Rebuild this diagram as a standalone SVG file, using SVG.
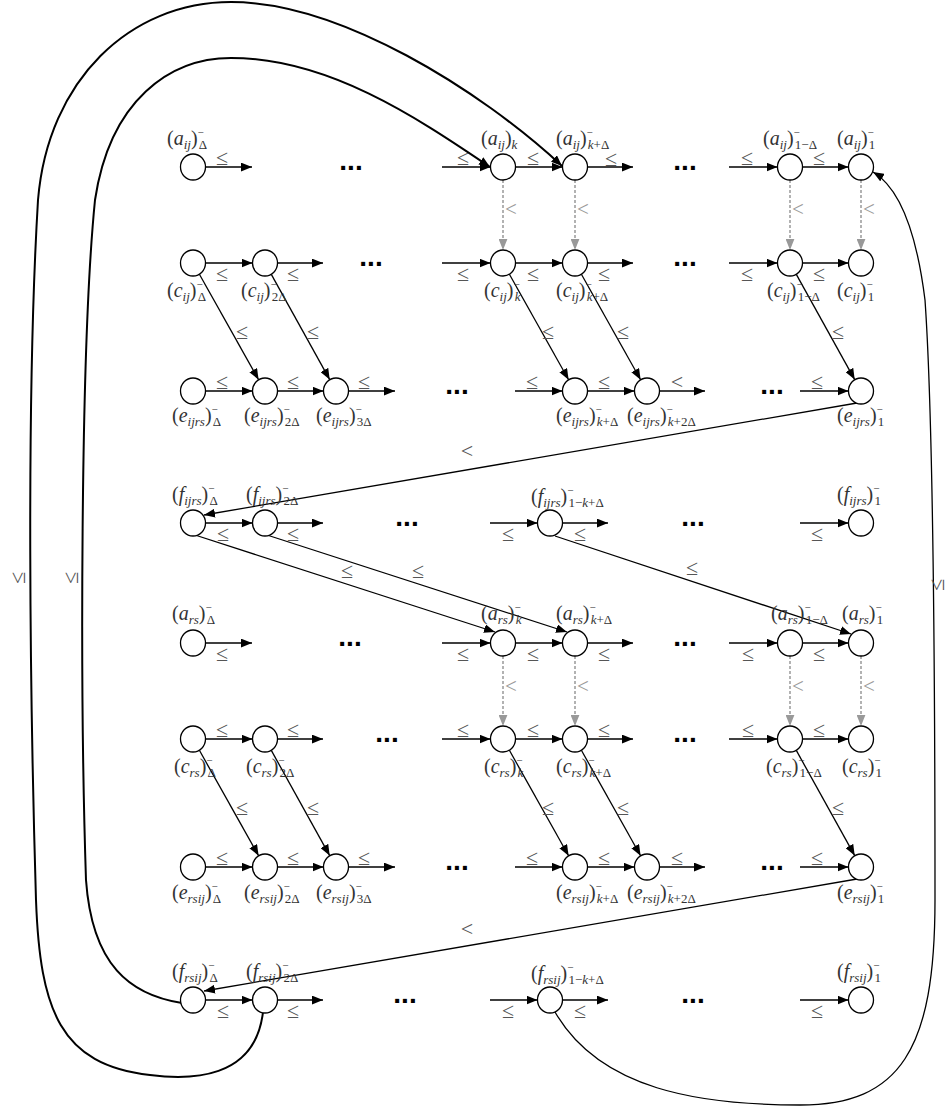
<svg xmlns="http://www.w3.org/2000/svg" width="948" height="1118" viewBox="0 0 948 1118">
<style>
.n{fill:#fff;stroke:#000;stroke-width:1.3}
.c{stroke:#000;stroke-width:1.3;fill:none;marker-end:url(#ah)}
.cb{stroke:#000;stroke-width:2;fill:none;marker-end:url(#ah)}
.d{stroke:#999;stroke-width:1.5;stroke-dasharray:3 2;fill:none;marker-end:url(#ahg)}
.lb{font-family:"Liberation Serif",serif;font-size:20px;fill:#333}
.i{font-style:italic}
.sb{font-size:13px}
.sp{font-size:11px}
.le{font-family:"Liberation Serif",serif;font-size:22px;fill:#555;text-anchor:middle}
.lg{font-family:"Liberation Serif",serif;font-size:21px;fill:#999}
.dt{font-family:"Liberation Sans",sans-serif;font-weight:bold;font-size:28px;text-anchor:middle;fill:#000}
</style>
<defs>
<marker id="ah" viewBox="0 0 10 8" refX="10" refY="4" markerWidth="11" markerHeight="9" orient="auto" markerUnits="userSpaceOnUse"><path d="M0,0 L10,4 L0,8 z" fill="#000"/></marker>
<marker id="ahg" viewBox="0 0 10 8" refX="10" refY="4" markerWidth="11" markerHeight="9" orient="auto" markerUnits="userSpaceOnUse"><path d="M0,0 L10,4 L0,8 z" fill="#999"/></marker>
</defs>
<rect width="948" height="1118" fill="#fff"/>

<g id="connectors">
<line class="c" x1="205.5" y1="167" x2="252" y2="167"/>
<line class="c" x1="442" y1="167" x2="490.5" y2="167"/>
<line class="c" x1="515.5" y1="167" x2="562.5" y2="167"/>
<line class="c" x1="587.5" y1="167" x2="633" y2="167"/>
<line class="c" x1="729" y1="167" x2="777.5" y2="167"/>
<line class="c" x1="802.5" y1="167" x2="848.5" y2="167"/>
<text class="le" x="222" y="165">≤</text><text class="le" x="463" y="165">≤</text><text class="le" x="533" y="165">≤</text><text class="le" x="611" y="166">≤</text><text class="le" x="747" y="165">≤</text><text class="le" x="819" y="165">≤</text>
<line class="d" x1="503" y1="180" x2="503" y2="250"/>
<line class="d" x1="575" y1="180" x2="575" y2="250"/>
<line class="d" x1="790" y1="180" x2="790" y2="250"/>
<line class="d" x1="861" y1="180" x2="861" y2="250"/>
<text class="lg" x="505" y="216">&lt;</text><text class="lg" x="577" y="216">&lt;</text><text class="lg" x="792" y="216">&lt;</text><text class="lg" x="863" y="216">&lt;</text>
<line class="c" x1="205.5" y1="263" x2="252.5" y2="263"/>
<line class="c" x1="277.5" y1="263" x2="323" y2="263"/>
<line class="c" x1="442" y1="263" x2="490.5" y2="263"/>
<line class="c" x1="515.5" y1="263" x2="562.5" y2="263"/>
<line class="c" x1="587.5" y1="263" x2="633" y2="263"/>
<line class="c" x1="729" y1="263" x2="777.5" y2="263"/>
<line class="c" x1="802.5" y1="263" x2="848.5" y2="263"/>
<text class="le" x="222" y="281">≤</text><text class="le" x="293" y="281">≤</text><text class="le" x="463" y="281">≤</text><text class="le" x="533" y="281">≤</text><text class="le" x="604" y="281">≤</text><text class="le" x="747" y="281">≤</text><text class="le" x="819" y="281">≤</text>
<line class="c" x1="199.4" y1="274.3" x2="258.6" y2="379.7"/>
<line class="c" x1="271.3" y1="274.4" x2="329.7" y2="379.6"/>
<line class="c" x1="509.4" y1="274.3" x2="568.6" y2="379.7"/>
<line class="c" x1="581.4" y1="274.3" x2="640.6" y2="379.7"/>
<line class="c" x1="796.3" y1="274.4" x2="854.7" y2="379.6"/>
<text class="le" x="242" y="339">≤</text><text class="le" x="313" y="339">≤</text><text class="le" x="548" y="339">≤</text><text class="le" x="623" y="339">≤</text><text class="le" x="838" y="339">≤</text>
<line class="c" x1="205.5" y1="391" x2="252.5" y2="391"/>
<line class="c" x1="277.5" y1="391" x2="323.5" y2="391"/>
<line class="c" x1="348.5" y1="391" x2="395" y2="391"/>
<line class="c" x1="515" y1="391" x2="562.5" y2="391"/>
<line class="c" x1="587.5" y1="391" x2="634.5" y2="391"/>
<line class="c" x1="659.5" y1="391" x2="705" y2="391"/>
<line class="c" x1="800" y1="391" x2="848.5" y2="391"/>
<text class="le" x="222" y="389">≤</text><text class="le" x="293" y="389">≤</text><text class="le" x="364" y="389">≤</text><text class="le" x="532" y="389">≤</text><text class="le" x="604" y="389">≤</text><text class="le" x="677" y="389">&lt;</text><text class="le" x="817" y="389">≤</text>
<line class="c" x1="857" y1="403" x2="204" y2="515"/>
<text class="le" x="467" y="458">&lt;</text>
<line class="c" x1="205.5" y1="523" x2="252.5" y2="523"/>
<line class="c" x1="277.5" y1="523" x2="323" y2="523"/>
<line class="c" x1="490" y1="523" x2="537.5" y2="523"/>
<line class="c" x1="562.5" y1="523" x2="608" y2="523"/>
<line class="c" x1="800" y1="523" x2="848.5" y2="523"/>
<text class="le" x="223" y="541">≤</text><text class="le" x="293" y="541">≤</text><text class="le" x="508" y="541">≤</text><text class="le" x="580" y="541">≤</text><text class="le" x="817" y="541">≤</text>
<line class="c" x1="195" y1="535" x2="495" y2="632"/>
<line class="c" x1="267" y1="535" x2="567" y2="632"/>
<line class="c" x1="555" y1="536" x2="851" y2="634"/>
<text class="le" x="347" y="578">≤</text><text class="le" x="418" y="578">≤</text><text class="le" x="692" y="575">≤</text>
<line class="c" x1="205.5" y1="643" x2="252" y2="643"/>
<line class="c" x1="442" y1="643" x2="490.5" y2="643"/>
<line class="c" x1="515.5" y1="643" x2="562.5" y2="643"/>
<line class="c" x1="587.5" y1="643" x2="633" y2="643"/>
<line class="c" x1="729" y1="643" x2="777.5" y2="643"/>
<line class="c" x1="802.5" y1="643" x2="848.5" y2="643"/>
<text class="le" x="222" y="661">≤</text><text class="le" x="463" y="661">≤</text><text class="le" x="533" y="661">≤</text><text class="le" x="604" y="661">≤</text><text class="le" x="748" y="661">≤</text><text class="le" x="819" y="661">≤</text>
<line class="d" x1="503" y1="656" x2="503" y2="726"/>
<line class="d" x1="575" y1="656" x2="575" y2="726"/>
<line class="d" x1="790" y1="656" x2="790" y2="726"/>
<line class="d" x1="861" y1="656" x2="861" y2="726"/>
<text class="lg" x="505" y="693">&lt;</text><text class="lg" x="577" y="693">&lt;</text><text class="lg" x="792" y="693">&lt;</text><text class="lg" x="863" y="693">&lt;</text>
<line class="c" x1="205.5" y1="739" x2="252.5" y2="739"/>
<line class="c" x1="277.5" y1="739" x2="323" y2="739"/>
<line class="c" x1="442" y1="739" x2="490.5" y2="739"/>
<line class="c" x1="515.5" y1="739" x2="562.5" y2="739"/>
<line class="c" x1="587.5" y1="739" x2="633" y2="739"/>
<line class="c" x1="729" y1="739" x2="777.5" y2="739"/>
<line class="c" x1="802.5" y1="739" x2="848.5" y2="739"/>
<text class="le" x="222" y="737">≤</text><text class="le" x="293" y="737">≤</text><text class="le" x="463" y="737">≤</text><text class="le" x="533" y="737">≤</text><text class="le" x="604" y="737">≤</text><text class="le" x="748" y="737">≤</text><text class="le" x="819" y="737">≤</text>
<line class="c" x1="199.4" y1="750.3" x2="258.6" y2="855.7"/>
<line class="c" x1="271.3" y1="750.4" x2="329.7" y2="855.6"/>
<line class="c" x1="509.4" y1="750.3" x2="568.6" y2="855.7"/>
<line class="c" x1="581.4" y1="750.3" x2="640.6" y2="855.7"/>
<line class="c" x1="796.3" y1="750.4" x2="854.7" y2="855.6"/>
<text class="le" x="242" y="815">≤</text><text class="le" x="313" y="815">≤</text><text class="le" x="548" y="815">≤</text><text class="le" x="623" y="815">≤</text><text class="le" x="838" y="815">≤</text>
<line class="c" x1="205.5" y1="867" x2="252.5" y2="867"/>
<line class="c" x1="277.5" y1="867" x2="323.5" y2="867"/>
<line class="c" x1="348.5" y1="867" x2="395" y2="867"/>
<line class="c" x1="515" y1="867" x2="562.5" y2="867"/>
<line class="c" x1="587.5" y1="867" x2="634.5" y2="867"/>
<line class="c" x1="659.5" y1="867" x2="705" y2="867"/>
<line class="c" x1="800" y1="867" x2="848.5" y2="867"/>
<text class="le" x="222" y="865">≤</text><text class="le" x="293" y="865">≤</text><text class="le" x="364" y="865">≤</text><text class="le" x="532" y="865">≤</text><text class="le" x="604" y="865">≤</text><text class="le" x="677" y="865">≤</text><text class="le" x="817" y="865">≤</text>
<line class="c" x1="857" y1="879" x2="204" y2="991"/>
<text class="le" x="467" y="936">&lt;</text>
<line class="c" x1="205.5" y1="1000" x2="252.5" y2="1000"/>
<line class="c" x1="277.5" y1="1000" x2="323" y2="1000"/>
<line class="c" x1="490" y1="1000" x2="537.5" y2="1000"/>
<line class="c" x1="562.5" y1="1000" x2="608" y2="1000"/>
<line class="c" x1="800" y1="1000" x2="848.5" y2="1000"/>
<text class="le" x="223" y="1018">≤</text><text class="le" x="293" y="1018">≤</text><text class="le" x="508" y="1018">≤</text><text class="le" x="580" y="1018">≤</text><text class="le" x="817" y="1018">≤</text>
<path class="cb" d="M263,1012 C255,1080 190,1080 150,1075 C60,1065 40,1010 36,900 C30,700 26,400 38,200 C48,80 130,2 231,2 C340,2 480,90 562,166"/>
<path class="cb" d="M182,1003 C130,995 92,965 86,880 C80,700 80,350 95,200 C110,100 170,58 231,58 C330,58 420,120 490,167"/>
<path class="c" d="M555,1012 C600,1090 700,1105 800,1105 C900,1105 935,1050 935,900 C935,600 932,400 925,300 C915,220 895,185 873,172"/>
<text class="le" transform="translate(25,578) rotate(-90)">≤</text>
<text class="le" transform="translate(78,578) rotate(-90)">≤</text>
<text class="le" transform="translate(944,585) rotate(-90)">≤</text>
</g>

<g id="ellipsis">
<text class="dt" x="351" y="170">...</text><text class="dt" x="685" y="170">...</text>
<text class="dt" x="371" y="266">...</text><text class="dt" x="685" y="266">...</text>
<text class="dt" x="457" y="394">...</text><text class="dt" x="772" y="394">...</text>
<text class="dt" x="407" y="526">...</text><text class="dt" x="693" y="526">...</text>
<text class="dt" x="350" y="646">...</text><text class="dt" x="685" y="646">...</text>
<text class="dt" x="387" y="742">...</text><text class="dt" x="685" y="742">...</text>
<text class="dt" x="457" y="870">...</text><text class="dt" x="772" y="870">...</text>
<text class="dt" x="405" y="1003">...</text><text class="dt" x="693" y="1003">...</text>
</g>

<g id="a_ij_D"><ellipse class="n" cx="193" cy="167" rx="12.5" ry="13"/><text class="lb" x="167" y="145">(<tspan class="i">a</tspan><tspan class="sb i" dy="4">ij</tspan><tspan dy="-4">)</tspan><tspan class="sp" dy="-9">−</tspan><tspan class="sb" dx="-5" dy="13">Δ</tspan></text></g>
<g id="a_ij_k"><ellipse class="n" cx="503" cy="167" rx="12.5" ry="13"/><text class="lb" x="481" y="145">(<tspan class="i">a</tspan><tspan class="sb i" dy="4">ij</tspan><tspan dy="-4">)</tspan><tspan class="sb i" dy="4">k</tspan></text></g>
<g id="a_ij_kD"><ellipse class="n" cx="575" cy="167" rx="12.5" ry="13"/><text class="lb" x="556" y="145">(<tspan class="i">a</tspan><tspan class="sb i" dy="4">ij</tspan><tspan dy="-4">)</tspan><tspan class="sp" dy="-9">−</tspan><tspan class="sb" dx="-5" dy="13"><tspan class="i">k</tspan>+Δ</tspan></text></g>
<g id="a_ij_1mD"><ellipse class="n" cx="790" cy="167" rx="12.5" ry="13"/><text class="lb" x="763" y="145">(<tspan class="i">a</tspan><tspan class="sb i" dy="4">ij</tspan><tspan dy="-4">)</tspan><tspan class="sp" dy="-9">−</tspan><tspan class="sb" dx="-5" dy="13">1−Δ</tspan></text></g>
<g id="a_ij_1"><ellipse class="n" cx="861" cy="167" rx="12.5" ry="13"/><text class="lb" x="837" y="145">(<tspan class="i">a</tspan><tspan class="sb i" dy="4">ij</tspan><tspan dy="-4">)</tspan><tspan class="sp" dy="-9">−</tspan><tspan class="sb" dx="-5" dy="13">1</tspan></text></g>

<g id="c_ij_D"><ellipse class="n" cx="193" cy="263" rx="12.5" ry="13"/><text class="lb" x="167" y="297">(<tspan class="i">c</tspan><tspan class="sb i" dy="4">ij</tspan><tspan dy="-4">)</tspan><tspan class="sp" dy="-9">−</tspan><tspan class="sb" dx="-5" dy="13">Δ</tspan></text></g>
<g id="c_ij_2D"><ellipse class="n" cx="265" cy="263" rx="12.5" ry="13"/><text class="lb" x="241" y="297">(<tspan class="i">c</tspan><tspan class="sb i" dy="4">ij</tspan><tspan dy="-4">)</tspan><tspan class="sp" dy="-9">−</tspan><tspan class="sb" dx="-5" dy="13">2Δ</tspan></text></g>
<g id="c_ij_k"><ellipse class="n" cx="503" cy="263" rx="12.5" ry="13"/><text class="lb" x="484" y="297">(<tspan class="i">c</tspan><tspan class="sb i" dy="4">ij</tspan><tspan dy="-4">)</tspan><tspan class="sp" dy="-9">−</tspan><tspan class="sb i" dx="-5" dy="13">k</tspan></text></g>
<g id="c_ij_kD"><ellipse class="n" cx="575" cy="263" rx="12.5" ry="13"/><text class="lb" x="556" y="297">(<tspan class="i">c</tspan><tspan class="sb i" dy="4">ij</tspan><tspan dy="-4">)</tspan><tspan class="sp" dy="-9">−</tspan><tspan class="sb" dx="-5" dy="13"><tspan class="i">k</tspan>+Δ</tspan></text></g>
<g id="c_ij_1mD"><ellipse class="n" cx="790" cy="263" rx="12.5" ry="13"/><text class="lb" x="767" y="297">(<tspan class="i">c</tspan><tspan class="sb i" dy="4">ij</tspan><tspan dy="-4">)</tspan><tspan class="sp" dy="-9">−</tspan><tspan class="sb" dx="-5" dy="13">1−Δ</tspan></text></g>
<g id="c_ij_1"><ellipse class="n" cx="861" cy="263" rx="12.5" ry="13"/><text class="lb" x="837" y="297">(<tspan class="i">c</tspan><tspan class="sb i" dy="4">ij</tspan><tspan dy="-4">)</tspan><tspan class="sp" dy="-9">−</tspan><tspan class="sb" dx="-5" dy="13">1</tspan></text></g>

<g id="e_ijrs_D"><ellipse class="n" cx="193" cy="391" rx="12.5" ry="13"/><text class="lb" x="172" y="422">(<tspan class="i">e</tspan><tspan class="sb i" dy="4">ijrs</tspan><tspan dy="-4">)</tspan><tspan class="sp" dy="-9">−</tspan><tspan class="sb" dx="-5" dy="13">Δ</tspan></text></g>
<g id="e_ijrs_2D"><ellipse class="n" cx="265" cy="391" rx="12.5" ry="13"/><text class="lb" x="244" y="422">(<tspan class="i">e</tspan><tspan class="sb i" dy="4">ijrs</tspan><tspan dy="-4">)</tspan><tspan class="sp" dy="-9">−</tspan><tspan class="sb" dx="-5" dy="13">2Δ</tspan></text></g>
<g id="e_ijrs_3D"><ellipse class="n" cx="336" cy="391" rx="12.5" ry="13"/><text class="lb" x="316" y="422">(<tspan class="i">e</tspan><tspan class="sb i" dy="4">ijrs</tspan><tspan dy="-4">)</tspan><tspan class="sp" dy="-9">−</tspan><tspan class="sb" dx="-5" dy="13">3Δ</tspan></text></g>
<g id="e_ijrs_kD"><ellipse class="n" cx="575" cy="391" rx="12.5" ry="13"/><text class="lb" x="556" y="422">(<tspan class="i">e</tspan><tspan class="sb i" dy="4">ijrs</tspan><tspan dy="-4">)</tspan><tspan class="sp" dy="-9">−</tspan><tspan class="sb" dx="-5" dy="13"><tspan class="i">k</tspan>+Δ</tspan></text></g>
<g id="e_ijrs_k2D"><ellipse class="n" cx="647" cy="391" rx="12.5" ry="13"/><text class="lb" x="627" y="422">(<tspan class="i">e</tspan><tspan class="sb i" dy="4">ijrs</tspan><tspan dy="-4">)</tspan><tspan class="sp" dy="-9">−</tspan><tspan class="sb" dx="-5" dy="13"><tspan class="i">k</tspan>+2Δ</tspan></text></g>
<g id="e_ijrs_1"><ellipse class="n" cx="861" cy="391" rx="12.5" ry="13"/><text class="lb" x="837" y="422">(<tspan class="i">e</tspan><tspan class="sb i" dy="4">ijrs</tspan><tspan dy="-4">)</tspan><tspan class="sp" dy="-9">−</tspan><tspan class="sb" dx="-5" dy="13">1</tspan></text></g>

<g id="f_ijrs_D"><ellipse class="n" cx="193" cy="523" rx="12.5" ry="13"/><text class="lb" x="172" y="501">(<tspan class="i">f</tspan><tspan class="sb i" dy="4">ijrs</tspan><tspan dy="-4">)</tspan><tspan class="sp" dy="-9">−</tspan><tspan class="sb" dx="-5" dy="13">Δ</tspan></text></g>
<g id="f_ijrs_2D"><ellipse class="n" cx="265" cy="523" rx="12.5" ry="13"/><text class="lb" x="246" y="501">(<tspan class="i">f</tspan><tspan class="sb i" dy="4">ijrs</tspan><tspan dy="-4">)</tspan><tspan class="sp" dy="-9">−</tspan><tspan class="sb" dx="-5" dy="13">2Δ</tspan></text></g>
<g id="f_ijrs_1mkD"><ellipse class="n" cx="550" cy="523" rx="12.5" ry="13"/><text class="lb" x="531" y="503">(<tspan class="i">f</tspan><tspan class="sb i" dy="4">ijrs</tspan><tspan dy="-4">)</tspan><tspan class="sp" dy="-9">−</tspan><tspan class="sb" dx="-5" dy="13">1−<tspan class="i">k</tspan>+Δ</tspan></text></g>
<g id="f_ijrs_1"><ellipse class="n" cx="861" cy="523" rx="12.5" ry="13"/><text class="lb" x="837" y="501">(<tspan class="i">f</tspan><tspan class="sb i" dy="4">ijrs</tspan><tspan dy="-4">)</tspan><tspan class="sp" dy="-9">−</tspan><tspan class="sb" dx="-5" dy="13">1</tspan></text></g>

<g id="a_rs_D"><ellipse class="n" cx="193" cy="643" rx="12.5" ry="13"/><text class="lb" x="172" y="620">(<tspan class="i">a</tspan><tspan class="sb i" dy="4">rs</tspan><tspan dy="-4">)</tspan><tspan class="sp" dy="-9">−</tspan><tspan class="sb" dx="-5" dy="13">Δ</tspan></text></g>
<g id="a_rs_k"><ellipse class="n" cx="503" cy="643" rx="12.5" ry="13"/><text class="lb" x="481" y="620">(<tspan class="i">a</tspan><tspan class="sb i" dy="4">rs</tspan><tspan dy="-4">)</tspan><tspan class="sp" dy="-9">−</tspan><tspan class="sb i" dx="-5" dy="13">k</tspan></text></g>
<g id="a_rs_kD"><ellipse class="n" cx="575" cy="643" rx="12.5" ry="13"/><text class="lb" x="556" y="620">(<tspan class="i">a</tspan><tspan class="sb i" dy="4">rs</tspan><tspan dy="-4">)</tspan><tspan class="sp" dy="-9">−</tspan><tspan class="sb" dx="-5" dy="13"><tspan class="i">k</tspan>+Δ</tspan></text></g>
<g id="a_rs_1mD"><ellipse class="n" cx="790" cy="643" rx="12.5" ry="13"/><text class="lb" x="771" y="620">(<tspan class="i">a</tspan><tspan class="sb i" dy="4">rs</tspan><tspan dy="-4">)</tspan><tspan class="sp" dy="-9">−</tspan><tspan class="sb" dx="-5" dy="13">1−Δ</tspan></text></g>
<g id="a_rs_1"><ellipse class="n" cx="861" cy="643" rx="12.5" ry="13"/><text class="lb" x="842" y="620">(<tspan class="i">a</tspan><tspan class="sb i" dy="4">rs</tspan><tspan dy="-4">)</tspan><tspan class="sp" dy="-9">−</tspan><tspan class="sb" dx="-5" dy="13">1</tspan></text></g>

<g id="c_rs_D"><ellipse class="n" cx="193" cy="739" rx="12.5" ry="13"/><text class="lb" x="174" y="773">(<tspan class="i">c</tspan><tspan class="sb i" dy="4">rs</tspan><tspan dy="-4">)</tspan><tspan class="sp" dy="-9">−</tspan><tspan class="sb" dx="-5" dy="13">Δ</tspan></text></g>
<g id="c_rs_2D"><ellipse class="n" cx="265" cy="739" rx="12.5" ry="13"/><text class="lb" x="246" y="773">(<tspan class="i">c</tspan><tspan class="sb i" dy="4">rs</tspan><tspan dy="-4">)</tspan><tspan class="sp" dy="-9">−</tspan><tspan class="sb" dx="-5" dy="13">2Δ</tspan></text></g>
<g id="c_rs_k"><ellipse class="n" cx="503" cy="739" rx="12.5" ry="13"/><text class="lb" x="484" y="773">(<tspan class="i">c</tspan><tspan class="sb i" dy="4">rs</tspan><tspan dy="-4">)</tspan><tspan class="sp" dy="-9">−</tspan><tspan class="sb i" dx="-5" dy="13">k</tspan></text></g>
<g id="c_rs_kD"><ellipse class="n" cx="575" cy="739" rx="12.5" ry="13"/><text class="lb" x="556" y="773">(<tspan class="i">c</tspan><tspan class="sb i" dy="4">rs</tspan><tspan dy="-4">)</tspan><tspan class="sp" dy="-9">−</tspan><tspan class="sb" dx="-5" dy="13"><tspan class="i">k</tspan>+Δ</tspan></text></g>
<g id="c_rs_1mD"><ellipse class="n" cx="790" cy="739" rx="12.5" ry="13"/><text class="lb" x="766" y="773">(<tspan class="i">c</tspan><tspan class="sb i" dy="4">rs</tspan><tspan dy="-4">)</tspan><tspan class="sp" dy="-9">−</tspan><tspan class="sb" dx="-5" dy="13">1−Δ</tspan></text></g>
<g id="c_rs_1"><ellipse class="n" cx="861" cy="739" rx="12.5" ry="13"/><text class="lb" x="842" y="773">(<tspan class="i">c</tspan><tspan class="sb i" dy="4">rs</tspan><tspan dy="-4">)</tspan><tspan class="sp" dy="-9">−</tspan><tspan class="sb" dx="-5" dy="13">1</tspan></text></g>

<g id="e_rsij_D"><ellipse class="n" cx="193" cy="867" rx="12.5" ry="13"/><text class="lb" x="172" y="899">(<tspan class="i">e</tspan><tspan class="sb i" dy="4">rsij</tspan><tspan dy="-4">)</tspan><tspan class="sp" dy="-9">−</tspan><tspan class="sb" dx="-5" dy="13">Δ</tspan></text></g>
<g id="e_rsij_2D"><ellipse class="n" cx="265" cy="867" rx="12.5" ry="13"/><text class="lb" x="244" y="899">(<tspan class="i">e</tspan><tspan class="sb i" dy="4">rsij</tspan><tspan dy="-4">)</tspan><tspan class="sp" dy="-9">−</tspan><tspan class="sb" dx="-5" dy="13">2Δ</tspan></text></g>
<g id="e_rsij_3D"><ellipse class="n" cx="336" cy="867" rx="12.5" ry="13"/><text class="lb" x="316" y="899">(<tspan class="i">e</tspan><tspan class="sb i" dy="4">rsij</tspan><tspan dy="-4">)</tspan><tspan class="sp" dy="-9">−</tspan><tspan class="sb" dx="-5" dy="13">3Δ</tspan></text></g>
<g id="e_rsij_kD"><ellipse class="n" cx="575" cy="867" rx="12.5" ry="13"/><text class="lb" x="556" y="899">(<tspan class="i">e</tspan><tspan class="sb i" dy="4">rsij</tspan><tspan dy="-4">)</tspan><tspan class="sp" dy="-9">−</tspan><tspan class="sb" dx="-5" dy="13"><tspan class="i">k</tspan>+Δ</tspan></text></g>
<g id="e_rsij_k2D"><ellipse class="n" cx="647" cy="867" rx="12.5" ry="13"/><text class="lb" x="627" y="899">(<tspan class="i">e</tspan><tspan class="sb i" dy="4">rsij</tspan><tspan dy="-4">)</tspan><tspan class="sp" dy="-9">−</tspan><tspan class="sb" dx="-5" dy="13"><tspan class="i">k</tspan>+2Δ</tspan></text></g>
<g id="e_rsij_1"><ellipse class="n" cx="861" cy="867" rx="12.5" ry="13"/><text class="lb" x="837" y="899">(<tspan class="i">e</tspan><tspan class="sb i" dy="4">rsij</tspan><tspan dy="-4">)</tspan><tspan class="sp" dy="-9">−</tspan><tspan class="sb" dx="-5" dy="13">1</tspan></text></g>

<g id="f_rsij_D"><ellipse class="n" cx="193" cy="1000" rx="12.5" ry="13"/><text class="lb" x="172" y="978">(<tspan class="i">f</tspan><tspan class="sb i" dy="4">rsij</tspan><tspan dy="-4">)</tspan><tspan class="sp" dy="-9">−</tspan><tspan class="sb" dx="-5" dy="13">Δ</tspan></text></g>
<g id="f_rsij_2D"><ellipse class="n" cx="265" cy="1000" rx="12.5" ry="13"/><text class="lb" x="246" y="978">(<tspan class="i">f</tspan><tspan class="sb i" dy="4">rsij</tspan><tspan dy="-4">)</tspan><tspan class="sp" dy="-9">−</tspan><tspan class="sb" dx="-5" dy="13">2Δ</tspan></text></g>
<g id="f_rsij_1mkD"><ellipse class="n" cx="550" cy="1000" rx="12.5" ry="13"/><text class="lb" x="531" y="980">(<tspan class="i">f</tspan><tspan class="sb i" dy="4">rsij</tspan><tspan dy="-4">)</tspan><tspan class="sp" dy="-9">−</tspan><tspan class="sb" dx="-5" dy="13">1−<tspan class="i">k</tspan>+Δ</tspan></text></g>
<g id="f_rsij_1"><ellipse class="n" cx="861" cy="1000" rx="12.5" ry="13"/><text class="lb" x="837" y="978">(<tspan class="i">f</tspan><tspan class="sb i" dy="4">rsij</tspan><tspan dy="-4">)</tspan><tspan class="sp" dy="-9">−</tspan><tspan class="sb" dx="-5" dy="13">1</tspan></text></g>
</svg>
